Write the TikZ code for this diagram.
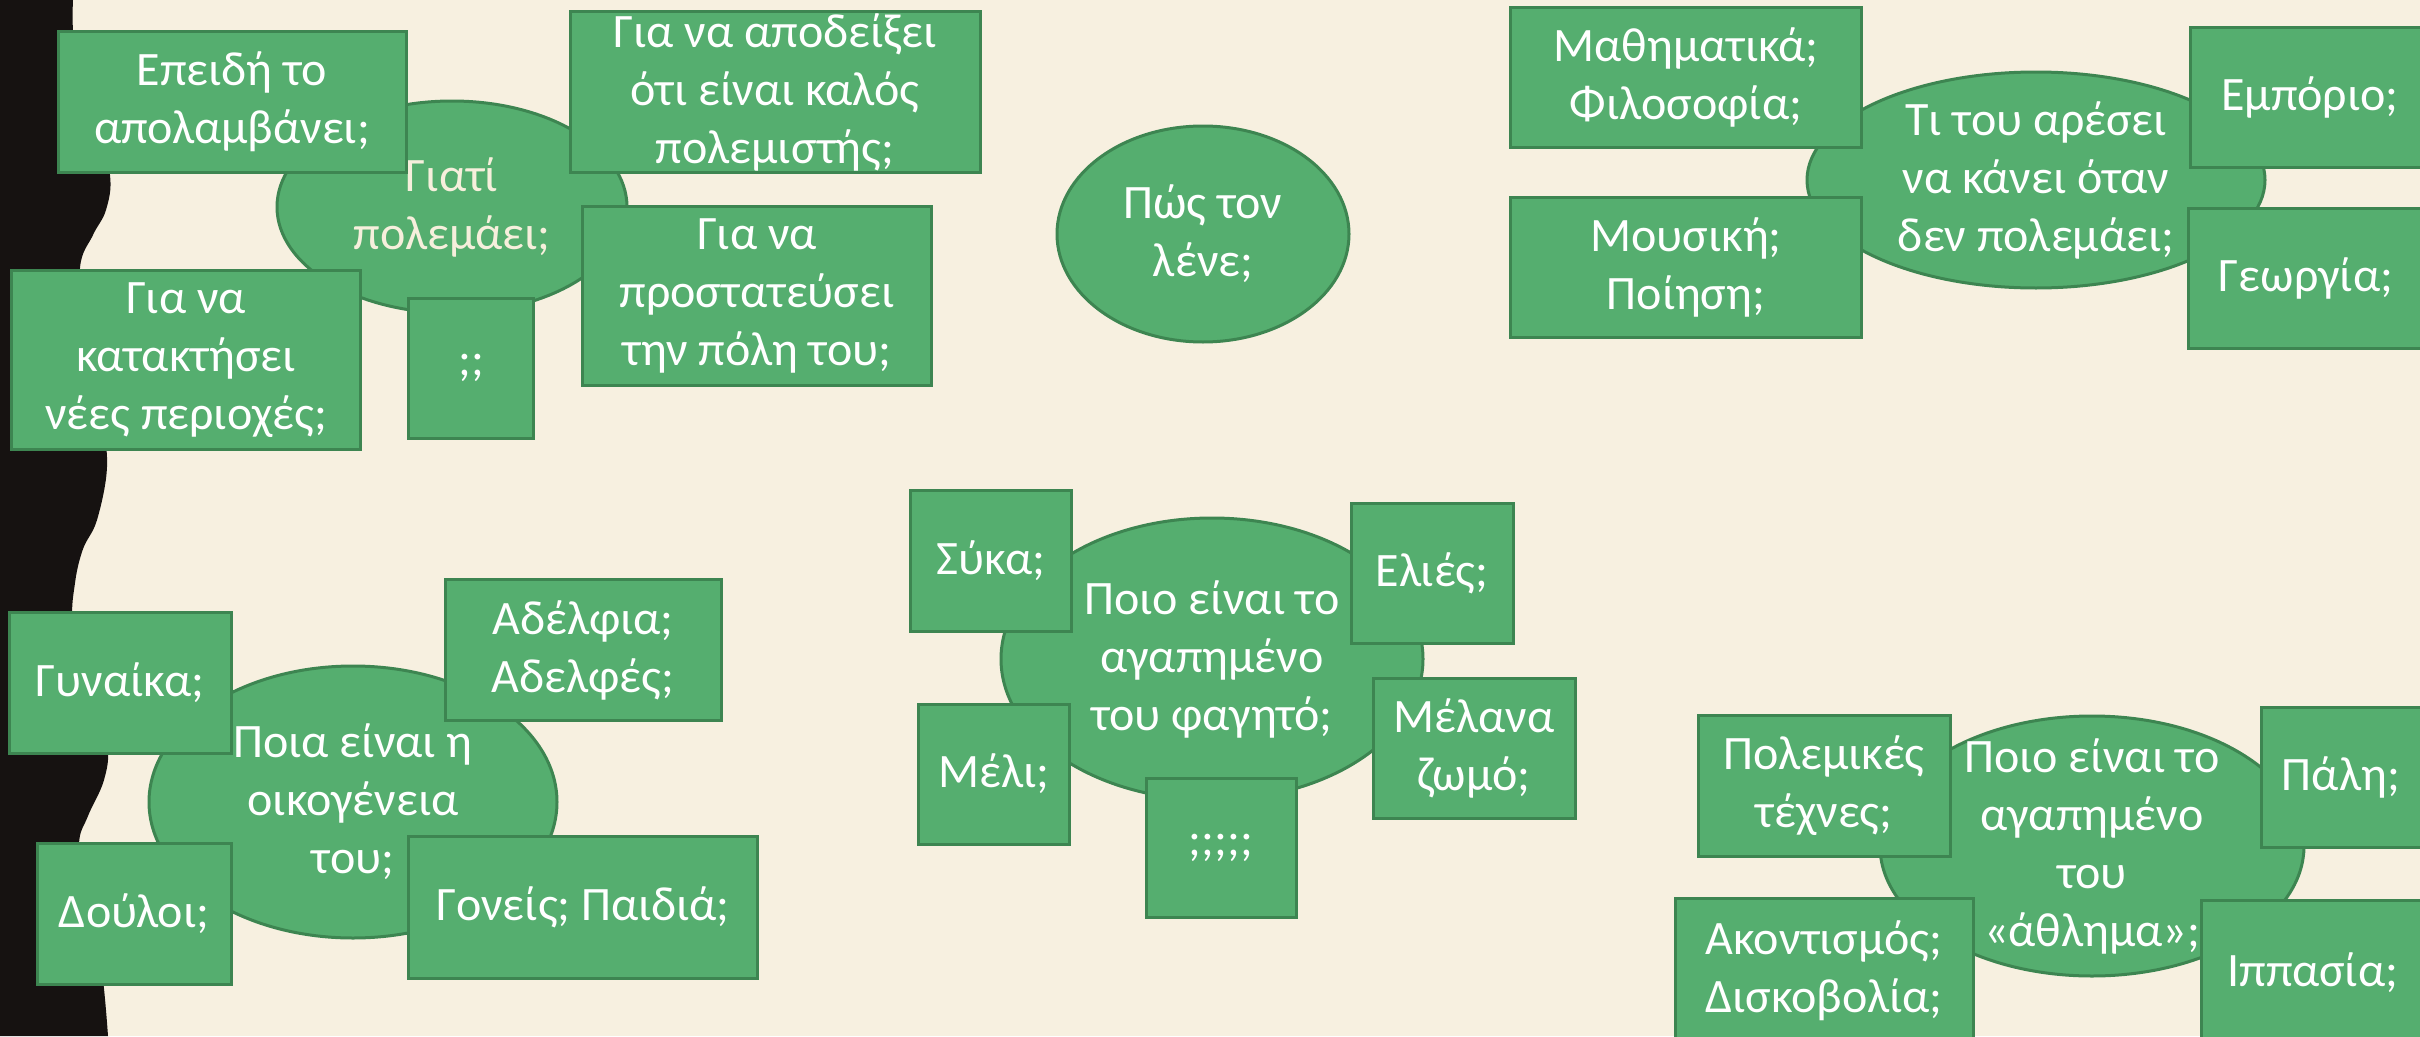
\documentclass[tikz,border=0pt]{standalone}
\usepackage{fontspec}
\setmainfont{Carlito}
\usetikzlibrary{shapes.geometric}
\definecolor{bg}{HTML}{F7F0E0}
\definecolor{ink}{HTML}{161211}
\definecolor{leaf}{HTML}{55AE6F}
\definecolor{leafdark}{HTML}{3D8551}
\definecolor{creamtext}{HTML}{F6EFDC}
\begin{document}
\begin{tikzpicture}[x=1pt,y=-1pt,
  txt/.style={font=\fontsize{48}{58}\selectfont, text=white, align=center, inner sep=0pt},
  card/.style={rectangle, draw=leafdark, fill=leaf, line width=3pt, inner sep=0pt},
  bubble/.style={ellipse, draw=leafdark, fill=leaf, line width=3pt, inner sep=0pt}]
\useasboundingbox (0,0) rectangle (2420,1036);
\clip (0,0) rectangle (2420,1036);
\fill[bg] (0,0) rectangle (2420,1036);
% dark wavy strip on the left
\fill[ink] (0,0) -- plot[smooth, tension=0.6] coordinates {(73,0) (75,50) (95,120) (110,175) (106,210) (93,235) (80,268) (84,340) (101,415) (107,467) (97,520) (83,549) (75,583) (73,625) (88,695) (107,745) (104,780) (88,816) (79,845) (86,905) (101,965) (108,1036)} -- (0,1036) -- cycle;

% ---- ellipses ----
\node[bubble, minimum width=350, minimum height=212] (e1) at (452,207) {};
\node[txt, text=creamtext] (e1t) at (e1.center) {Γιατί\\πολεμάει;};
\node[bubble, minimum width=292, minimum height=216] (e2) at (1203,234) {};
\node[txt] (e2t) at (e2.center) {Πώς τον\\λένε;};
\node[bubble, minimum width=458, minimum height=216] (e3) at (2036,180) {};
\node[txt] (e3t) at (e3.center) {Τι του αρέσει\\να κάνει όταν\\δεν πολεμάει;};
\node[bubble, minimum width=422, minimum height=282] (e4) at (1212,659) {};
\node[txt] (e4t) at (e4.center) {Ποιο είναι το\\αγαπημένο\\του φαγητό;};
\node[bubble, minimum width=408, minimum height=272] (e5) at (353,802) {};
\node[txt] (e5t) at (e5.center) {Ποια είναι η\\οικογένεια\\του;};
\node[bubble, minimum width=424, minimum height=260] (e6) at (2092,846) {};
\node[txt] (e6t) at (e6.center) {Ποιο είναι το\\αγαπημένο\\του\\«άθλημα»;};

% ---- cards ----
\node[card, minimum width=348, minimum height=141] (c1) at (232,102) {};
\node[txt] (c1t) at (c1.center) {Επειδή το\\απολαμβάνει;};
\node[card, minimum width=410, minimum height=161] (c2) at (775,92) {};
\node[txt] (c2t) at (c2.center) {Για να αποδείξει\\ότι είναι καλός\\πολεμιστής;};
\node[card, minimum width=349, minimum height=179] (c3) at (186,360) {};
\node[txt] (c3t) at (c3.center) {Για να\\κατακτήσει\\νέες περιοχές;};
\node[card, minimum width=125, minimum height=140] (c4) at (471,368) {};
\node[txt] (c4t) at (c4.center) {;;};
\node[card, minimum width=349, minimum height=179] (c5) at (757,296) {};
\node[txt] (c5t) at (c5.center) {Για να\\προστατεύσει\\την πόλη του;};
\node[card, minimum width=351, minimum height=140] (c6) at (1686,77) {};
\node[txt] (c6t) at (c6.center) {Μαθηματικά;\\Φιλοσοφία;};
\node[card, minimum width=351, minimum height=140] (c7) at (1686,267) {};
\node[txt] (c7t) at (c7.center) {Μουσική;\\Ποίηση;};
\node[card, minimum width=240, minimum height=140] (c8) at (2310,97) {};
\node[txt] (c8t) at (c8.center) {Εμπόριο;};
\node[card, minimum width=236, minimum height=140] (c9) at (2306,278) {};
\node[txt] (c9t) at (c9.center) {Γεωργία;};
\node[card, minimum width=161, minimum height=141] (c10) at (991,561) {};
\node[txt] (c10t) at (c10.center) {Σύκα;};
\node[card, minimum width=162, minimum height=140] (c11) at (1432,573) {};
\node[txt] (c11t) at (c11.center) {Ελιές;};
\node[card, minimum width=151, minimum height=140] (c12) at (994,774) {};
\node[txt] (c12t) at (c12.center) {Μέλι;};
\node[card, minimum width=202, minimum height=140] (c13) at (1474,748) {};
\node[txt] (c13t) at (c13.center) {Μέλανα\\ζωμό;};
\node[card, minimum width=150, minimum height=139] (c14) at (1221,848) {};
\node[txt] (c14t) at (c14.center) {;;;;;};
\node[card, minimum width=222, minimum height=141] (c15) at (120,683) {};
\node[txt] (c15t) at (c15.center) {Γυναίκα;};
\node[card, minimum width=276, minimum height=141] (c16) at (583,650) {};
\node[txt] (c16t) at (c16.center) {Αδέλφια;\\Αδελφές;};
\node[card, minimum width=194, minimum height=141] (c17) at (134,914) {};
\node[txt] (c17t) at (c17.center) {Δούλοι;};
\node[card, minimum width=349, minimum height=142] (c18) at (583,907) {};
\node[txt] (c18t) at (c18.center) {Γονείς; Παιδιά;};
\node[card, minimum width=252, minimum height=141] (c19) at (1824,786) {};
\node[txt] (c19t) at (c19.center) {Πολεμικές\\τέχνες;};
\node[card, minimum width=160, minimum height=140] (c20) at (2341,777) {};
\node[txt] (c20t) at (c20.center) {Πάλη;};
\node[card, minimum width=298, minimum height=146] (c21) at (1824,971) {};
\node[txt] (c21t) at (c21.center) {Ακοντισμός;\\Δισκοβολία;};
\node[card, minimum width=224, minimum height=146] (c22) at (2313,973) {};
\node[txt] (c22t) at (c22.center) {Ιππασία;};
\end{tikzpicture}
\end{document}
